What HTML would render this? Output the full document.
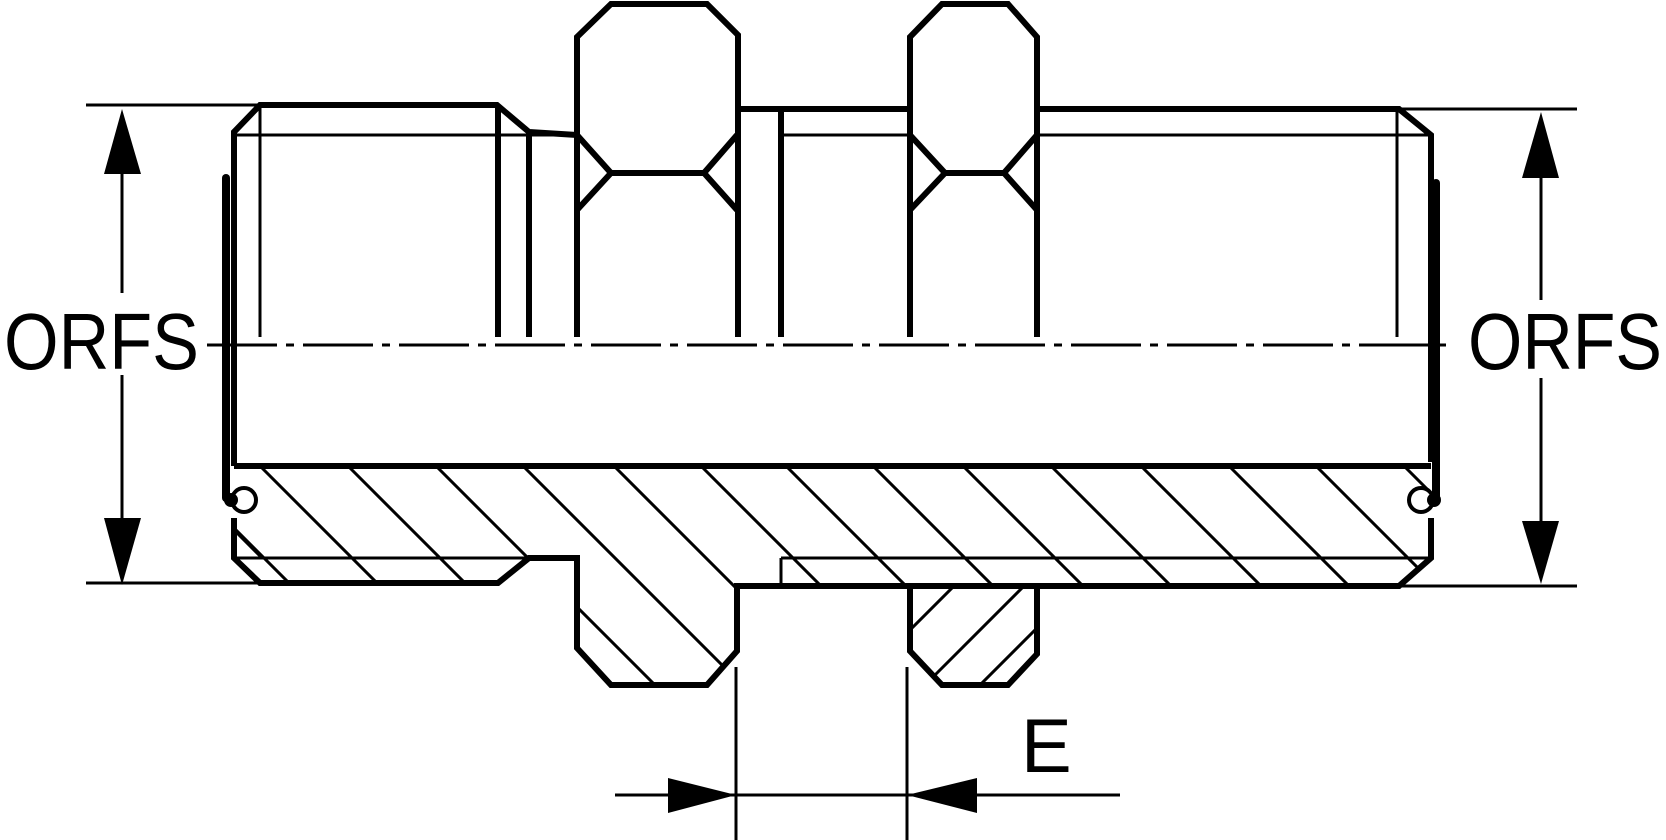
<!DOCTYPE html>
<html><head><meta charset="utf-8"><style>
html,body{margin:0;padding:0;background:#fff;}
svg{display:block;}
text{font-family:"Liberation Sans",sans-serif;fill:#000;}
</style></head><body>
<svg width="1666" height="840" viewBox="0 0 1666 840" xmlns="http://www.w3.org/2000/svg">
<defs>
<clipPath id="body"><polygon points="234,466 1431,466 1431,558 1399,586 737,586 737,651 707,685 611,685 577,648 577,558 529,558 498,583 260,583 234,558"/></clipPath>
<clipPath id="nut"><polygon points="910,586 1037,586 1037,654 1008,685 942,685 910,651"/></clipPath>
</defs>
<g stroke="#000" fill="none" stroke-linecap="butt">
<!-- hatch body -->
<g clip-path="url(#body)" stroke-width="3">
<line x1="260" y1="466" x2="480" y2="686"/>
<line x1="348" y1="466" x2="568" y2="686"/>
<line x1="436" y1="466" x2="656" y2="686"/>
<line x1="523" y1="466" x2="743" y2="686"/>
<line x1="614" y1="466" x2="834" y2="686"/>
<line x1="701" y1="466" x2="921" y2="686"/>
<line x1="786" y1="466" x2="1006" y2="686"/>
<line x1="873" y1="466" x2="1093" y2="686"/>
<line x1="963" y1="466" x2="1183" y2="686"/>
<line x1="1051" y1="466" x2="1271" y2="686"/>
<line x1="1141" y1="466" x2="1361" y2="686"/>
<line x1="1229" y1="466" x2="1449" y2="686"/>
<line x1="1316" y1="466" x2="1536" y2="686"/>
<line x1="1404" y1="466" x2="1624" y2="686"/>
<line x1="172" y1="466" x2="392" y2="686"/>
</g>
<g clip-path="url(#nut)" stroke-width="3">
<line x1="900" y1="640" x2="960" y2="580"/>
<line x1="930" y1="680" x2="1040" y2="570"/>
<line x1="975" y1="690" x2="1045" y2="620"/>
</g>
<!-- thin lines -->
<g stroke-width="3">
<line x1="234" y1="135" x2="577" y2="135"/>
<line x1="784" y1="135" x2="910" y2="135"/>
<line x1="1037" y1="135" x2="1431" y2="135"/>
<line x1="234" y1="558" x2="529" y2="558"/>
<line x1="781" y1="558" x2="1431" y2="558"/>
<line x1="781" y1="558" x2="781" y2="586"/>
<line x1="260" y1="105" x2="260" y2="337"/>
<line x1="1397" y1="110" x2="1397" y2="337"/>
<line x1="86" y1="105" x2="260" y2="105"/>
<line x1="86" y1="583" x2="260" y2="583"/>
<line x1="1399" y1="109" x2="1577" y2="109"/>
<line x1="1399" y1="586" x2="1577" y2="586"/>
<line x1="122" y1="160" x2="122" y2="293"/>
<line x1="122" y1="375" x2="122" y2="530"/>
<line x1="1541" y1="170" x2="1541" y2="300"/>
<line x1="1541" y1="378" x2="1541" y2="530"/>
<line x1="736" y1="667" x2="736" y2="840"/>
<line x1="907" y1="667" x2="907" y2="840"/>
<line x1="615" y1="795" x2="1120" y2="795"/>
<line x1="234" y1="530" x2="262" y2="558"/>
<line x1="1399" y1="586" x2="1431" y2="558"/>
<line x1="207" y1="345" x2="1455" y2="345" stroke-dasharray="70,9,8,9"/>
</g>
<!-- thick outlines -->
<g stroke-width="6" stroke-linejoin="miter">
<polyline points="234,466 234,132 260,105 497,105 529,132 577,135"/>
<line x1="577" y1="135" x2="577" y2="337"/>
<polyline points="577,337 577,37 611,4 707,4 738,35 738,337"/>
<polyline points="577,135 611,173 577,210"/>
<polyline points="737,135 704,173 737,210"/>
<line x1="611" y1="173" x2="704" y2="173"/>
<line x1="498" y1="105" x2="498" y2="337"/>
<line x1="529" y1="132" x2="529" y2="337"/>
<line x1="781" y1="112" x2="781" y2="337"/>
<line x1="737" y1="109" x2="910" y2="109"/>
<polyline points="910,337 910,37 942,4 1008,4 1037,37 1037,337"/>
<polyline points="910,135 945,173 910,210"/>
<polyline points="1037,135 1004,173 1037,210"/>
<line x1="945" y1="173" x2="1004" y2="173"/>
<polyline points="1037,109 1399,109 1431,135 1431,462"/>
<line x1="234" y1="466" x2="1431" y2="466"/>
<polyline points="1431,518 1431,558 1399,586 737,586 737,651 707,685 611,685 577,648 577,558 529,558 498,583 260,583 234,558 234,518"/>
<polyline points="910,586 910,651 942,685 1008,685 1037,654 1037,586"/>
</g>
<g stroke-width="8" stroke-linecap="round">
<line x1="226" y1="178" x2="226" y2="498"/>
<line x1="1436" y1="183" x2="1436" y2="498"/>
</g>
<circle cx="244" cy="500" r="12" stroke-width="4"/>
<circle cx="1421" cy="500" r="12" stroke-width="4"/>
</g>
<circle cx="231" cy="500" r="7" fill="#000"/>
<circle cx="1434" cy="500" r="7" fill="#000"/>
<!-- arrowheads -->
<g fill="#000">
<polygon points="122,109 104,174 141,174"/>
<polygon points="122,585 104,518 141,518"/>
<polygon points="1541,112 1522,178 1559,178"/>
<polygon points="1541,584 1522,521 1559,521"/>
<polygon points="736,795 668,778 668,813"/>
<polygon points="907,795 977,778 977,813"/>
</g>
<text x="4" y="369" font-size="80" textLength="195" lengthAdjust="spacingAndGlyphs">ORFS</text>
<text x="1468" y="369" font-size="80" textLength="194" lengthAdjust="spacingAndGlyphs">ORFS</text>
<text x="1021" y="772" font-size="76">E</text>
</svg>
</body></html>
